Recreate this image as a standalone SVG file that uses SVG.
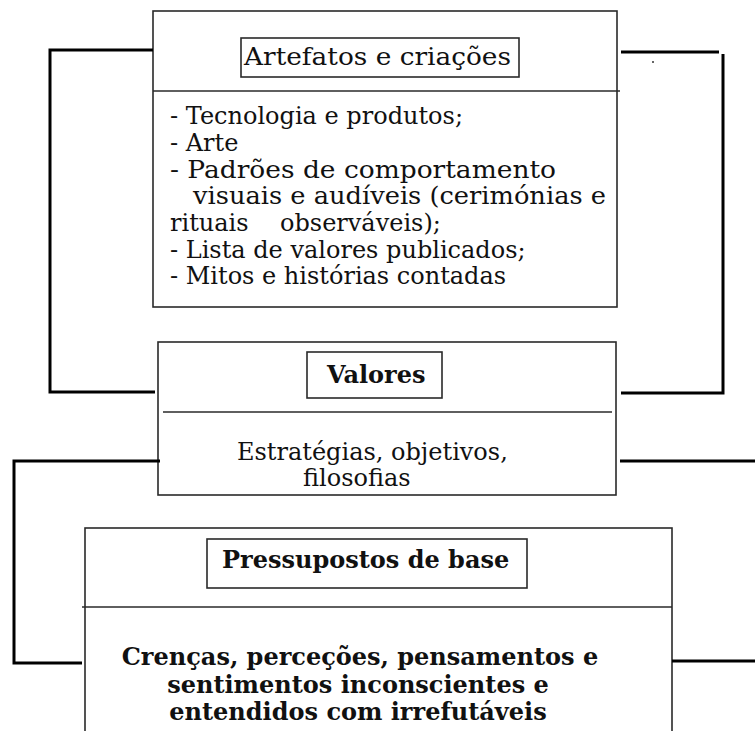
<svg xmlns="http://www.w3.org/2000/svg" width="755" height="731" viewBox="0 0 755 731">
  <style>
    .box { fill: #ffffff; stroke: #2a2a2a; stroke-width: 1.6; }
    .tbox { fill: #ffffff; stroke: #2a2a2a; stroke-width: 1.6; }
    .div { stroke: #2a2a2a; stroke-width: 1.6; fill: none; }
    .conn { stroke: #000000; stroke-width: 3; fill: none; }
    .txt { font-family: "DejaVu Serif", "Liberation Serif", serif; font-size: 24px; fill: #111111; }
    .b { font-weight: bold; }
  </style>
  <rect width="755" height="731" fill="#ffffff"/>

  <!-- level 1: artefacts -->
  <g id="artefatos">
    <rect class="box" x="153" y="11" width="464" height="296"/>
    <line class="div" x1="153" y1="91" x2="620" y2="91"/>
    <rect class="tbox" x="241" y="38" width="278" height="39"/>
    <text class="txt" x="244" y="65" textLength="267" lengthAdjust="spacingAndGlyphs">Artefatos e criações</text>
    <text class="txt" x="170" y="124">- Tecnologia e produtos;</text>
    <text class="txt" x="170" y="151">- Arte</text>
    <text class="txt" x="170" y="178" textLength="386" lengthAdjust="spacingAndGlyphs">- Padrões de comportamento</text>
    <text class="txt" x="193" y="204" textLength="413" lengthAdjust="spacingAndGlyphs">visuais e audíveis (cerimónias e</text>
    <text class="txt" x="170" y="231">rituais</text>
    <text class="txt" x="280" y="231">observáveis);</text>
    <text class="txt" x="170" y="258">- Lista de valores publicados;</text>
    <text class="txt" x="170" y="284">- Mitos e histórias contadas</text>
  </g>

  <!-- level 2: values -->
  <g id="valores">
    <rect class="box" x="158" y="342" width="458" height="153"/>
    <line class="div" x1="163" y1="412" x2="612" y2="412"/>
    <rect class="tbox" x="307" y="352" width="135" height="46"/>
    <text class="txt b" x="327" y="383">Valores</text>
    <text class="txt" x="237" y="460">Estratégias, objetivos,</text>
    <text class="txt" x="303" y="486">filosofias</text>
  </g>

  <!-- level 3: basic assumptions -->
  <g id="pressupostos">
    <rect class="box" x="85" y="528" width="587" height="230"/>
    <line class="div" x1="82" y1="607" x2="672" y2="607"/>
    <rect class="tbox" x="207" y="539" width="320" height="49"/>
    <text class="txt b" x="222" y="568">Pressupostos de base</text>
    <text class="txt b" x="360" y="665" text-anchor="middle">Crenças, perceções, pensamentos e</text>
    <text class="txt b" x="358" y="693" text-anchor="middle">sentimentos inconscientes e</text>
    <text class="txt b" x="358" y="720" text-anchor="middle">entendidos com irrefutáveis</text>
  </g>

  <!-- bracket connectors between levels -->
  <g id="connectors">
    <path class="conn" d="M153,50 H50 V392 H155"/>
    <path class="conn" d="M621,52 H719 M723,54 V393 H621"/>
    <circle cx="653" cy="62" r="1" fill="#333333"/>
    <path class="conn" d="M160,461 H14 V663 H82"/>
    <path class="conn" d="M620,461 H755"/>
    <path class="conn" d="M672,661 H755"/>
  </g>
</svg>
